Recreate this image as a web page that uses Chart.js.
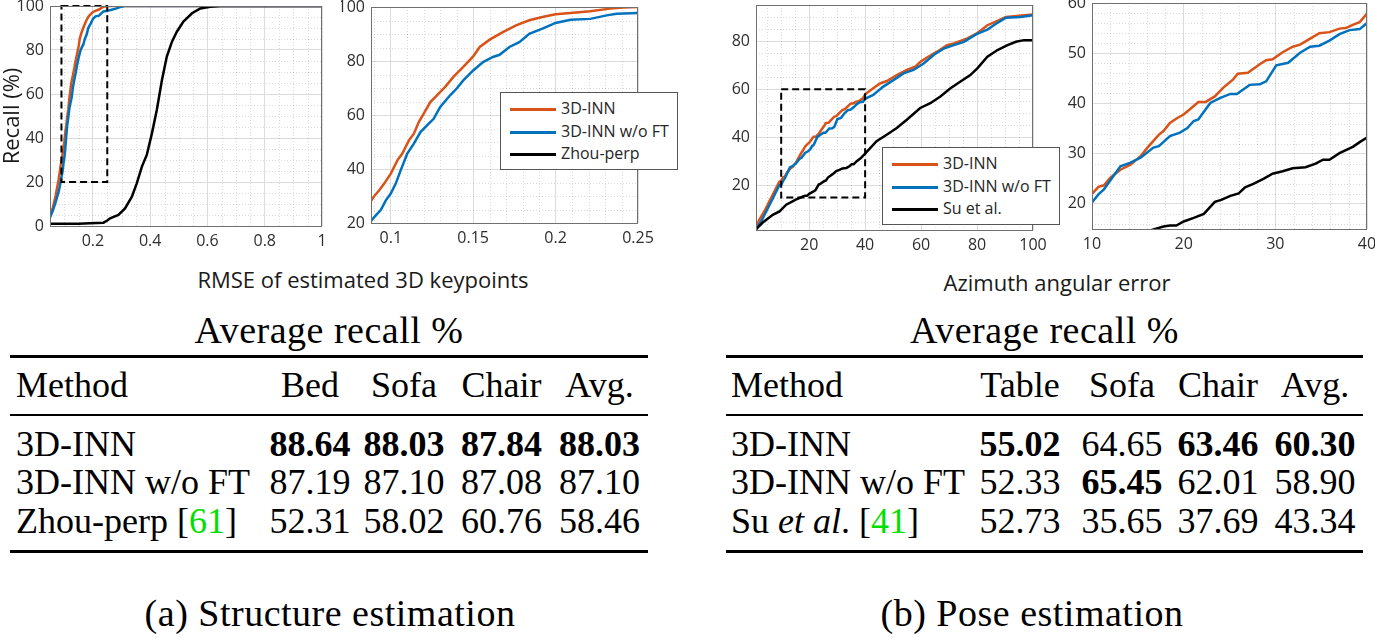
<!DOCTYPE html>
<html>
<head>
<meta charset="utf-8">
<title>3D-INN recall</title>
<script src="https://cdn.jsdelivr.net/npm/chart.js@4.4.1/dist/chart.umd.min.js"></script>
<style>
  html, body { margin: 0; padding: 0; background: #fff; }
  #fig { position: relative; width: 1375px; height: 638px; overflow: hidden; font-family: 'Open Sans', sans-serif; }
  canvas { position: absolute; }
  .axis-title { position: absolute; font-size: 22px; color: #1a1a1a; white-space: nowrap; transform: translate(-50%, -50%); }
  .legend { position: absolute; background: #fff; border: 1.5px solid #555; padding: 4px 8px 4px 9px; font-size: 16px; color: #262626; z-index: 5; }
  .legend div { height: 22.5px; line-height: 22.5px; white-space: nowrap; }
  .legend i { display: inline-block; width: 46px; height: 3px; vertical-align: middle; margin-right: 5px; }
  .tex { position: absolute; font-family: 'Liberation Serif', 'Times New Roman', serif; font-size: 36px; line-height: 40px; color: #000; white-space: nowrap; }
  .big { font-size: 38px; letter-spacing: 0.5px; }
  .rule { position: absolute; background: #000; }
  .cite { color: #00e000; }
</style>
</head>
<body>
<div id="fig">
  <canvas id="rmseFull"></canvas>
  <canvas id="rmseZoom"></canvas>
  <canvas id="aziFull"></canvas>
  <canvas id="aziZoom"></canvas>
  <div class="axis-title" style="left:363px; top:279px;">RMSE of estimated 3D keypoints</div>
  <div class="axis-title" style="left:1057px; top:282px;">Azimuth angular error</div>
  <div class="legend" id="legRmse" style="left:500px; top:92px;"></div>
  <div class="legend" id="legAzi" style="left:882px; top:147px;"></div>
</div>
<script>
// ---- curve data: [error threshold, recall %] ----
const rmseInn = [[0.05,4.5],[0.06,8.5],[0.07,14],[0.08,21],[0.085,25.5],[0.09,30],[0.093,32.1],[0.096,34.6],
  [0.100,38.3],[0.104,43.2],[0.107,45.7],[0.111,50.6],[0.114,53.1],[0.117,57.4],[0.120,60.5],[0.124,64.8],
  [0.128,67.3],[0.133,70.4],[0.138,74.1],[0.144,77.8],[0.150,81.7],[0.154,85.2],[0.160,87.9],[0.168,90.7],
  [0.176,93.2],[0.184,95.1],[0.192,96.3],[0.200,97.3],[0.209,97.8],[0.221,98.4],[0.233,99.4],[0.241,99.8],
  [0.250,100],[1.0,100]];
const rmseInnNoFt = [[0.05,3.9],[0.06,7],[0.07,11],[0.08,15.5],[0.085,18.5],[0.09,22.2],[0.094,24.9],[0.097,28.4],
  [0.100,30.9],[0.103,34.6],[0.106,39.5],[0.110,45.7],[0.114,49.4],[0.118,53.7],[0.122,56.2],[0.126,58.6],
  [0.130,63.0],[0.136,67.3],[0.140,69.8],[0.144,72.8],[0.150,76.5],[0.156,79.6],[0.162,81.5],[0.166,82.3],
  [0.172,85.2],[0.178,87.0],[0.184,90.1],[0.192,92.0],[0.200,94.1],[0.209,95.3],[0.221,95.6],[0.231,96.9],
  [0.237,97.5],[0.250,97.8],[0.265,98.3],[0.280,98.8],[0.300,99.7],[0.310,100],[1.0,100]];
const rmseZhou = [[0.05,1],[0.10,1],[0.15,1],[0.19,1.2],[0.237,1.5],[0.25,2.5],[0.26,3.5],[0.289,5],[0.312,8],
  [0.336,13.3],[0.353,19.4],[0.371,27],[0.388,32.3],[0.406,42.1],[0.423,52.7],[0.441,66.4],[0.458,77],
  [0.476,83.8],[0.493,88.3],[0.516,92.9],[0.546,96.7],[0.575,98.9],[0.61,99.7],[0.645,100],[1.0,100]];

const aziInn = [[1,2.2],[2.1,5.6],[3.9,9.1],[5.7,13.2],[7.5,17.4],[9.3,21.5],[10,22.0],[10.7,23.4],[11.3,23.7],
  [12.0,25.2],[13.1,26.8],[14.2,27.8],[15.3,29.5],[16.0,31.1],[17.3,33.8],[17.8,34.5],[18.5,36.1],[19.3,37.1],
  [20.0,37.8],[21.1,39.5],[21.6,40.3],[22.4,40.3],[23.4,41.4],[24.3,43.1],[25.4,44.8],[25.9,45.9],[27.0,46.1],
  [28.3,47.8],[29.0,48.6],[29.7,48.8],[30.8,50.2],[31.9,51.3],[32.7,51.7],[33.8,52.9],[34.8,54.0],[35.9,54.2],
  [37.0,54.9],[37.7,55.0],[38.5,55.7],[39.2,56.2],[40,57.9],[42.9,60.4],[45.3,62.4],[47.8,63.4],[51.3,65.9],
  [54.9,68],[57.9,69.4],[59.8,71.4],[62.1,73.2],[65.7,75.6],[69.3,78.3],[71.7,79],[74.1,80.1],[76.5,81.1],
  [79.8,83.1],[83.7,86.6],[87.3,88.4],[90.3,90],[93.3,90.3],[96.8,90.7],[100,91.1]];
const aziInnNoFt = [[1,1.8],[2.8,5],[4.6,9.1],[7.0,14.6],[9.4,20.2],[10,20.3],[10.7,21.9],[11.3,22.9],[12.2,25.2],
  [13.1,27.5],[14.2,28.2],[15.3,29.2],[16.7,31.2],[17.3,31.5],[18.5,33.5],[19.6,34.2],[20.4,35.1],[21.1,36.5],
  [21.6,36.8],[22.9,40.1],[24.0,41.1],[25.1,41.9],[25.8,41.9],[27.2,43.7],[28.3,43.8],[29.0,44.4],[30.1,47.6],
  [31.4,48.1],[32.7,50.1],[33.8,51.3],[34.8,51.5],[35.9,52.5],[37.0,53.8],[38.1,54.6],[39.2,54.8],[40,56.0],
  [42.9,57.6],[46.5,61.1],[50.1,63.8],[53.7,66.6],[57.3,68],[60.9,70.7],[64.5,74.2],[68.1,76.9],[71.7,78.3],
  [75.3,79.7],[79.8,82.9],[83.7,84.8],[87.3,87.6],[90.3,89.7],[95.6,90],[100,90.7]];
const aziSu = [[1,1.8],[3.4,4.6],[7,7.8],[9.4,9.2],[11.8,12],[15.4,14.2],[16.9,15.0],[17.8,15.5],[18.5,15.7],
  [19.2,15.7],[20.0,16.5],[21.1,17.2],[22.2,18.0],[23.4,20.4],[24.1,20.8],[25.1,21.6],[26.0,22.1],[26.7,23.3],
  [27.6,24.0],[28.7,25.0],[29.7,26.0],[30.8,26.5],[31.9,27.1],[33.3,27.3],[34.4,28.0],[35.2,28.8],[35.9,28.8],
  [37.0,30.1],[38.5,31.4],[39.2,32.3],[40,33.2],[44.1,38.4],[47.7,41.1],[51.3,43.9],[54.9,47.3],[59.7,52.2],
  [63.3,54.2],[66.9,57],[70.5,60.4],[74.1,63.2],[77.6,65.9],[80.1,68.7],[83.7,73.5],[87.3,76.3],[90.9,78.3],
  [93.9,79.7],[96.8,80.4],[100,80.4]];

// ---- tick values ----
const rmseFullXTicks = [0.2, 0.4, 0.6, 0.8, 1];
const rmseFullYTicks = [0, 20, 40, 60, 80, 100];
const rmseZoomXTicks = [0.1, 0.15, 0.2, 0.25];
const rmseZoomYTicks = [20, 40, 60, 80, 100];
const aziFullXTicks = [20, 40, 60, 80, 100];
const aziFullYTicks = [20, 40, 60, 80];
const aziZoomXTicks = [10, 20, 30, 40];
const aziZoomYTicks = [20, 30, 40, 50, 60];

// dashed boxes marking the zoomed region [xMin, xMax, yMin, yMax]
const rmseZoomRegion = [0.09, 0.25, 20, 100];
const aziZoomRegion = [10, 40, 15, 60];

// ---- tables ----
const structCols = ['Bed', 'Sofa', 'Chair', 'Avg.'];
const structMethods = ['3D-INN', '3D-INN w/o FT', 'Zhou-perp'];
const structCites = [null, null, '61'];
const structVals = [[88.64, 88.03, 87.84, 88.03], [87.19, 87.10, 87.08, 87.10], [52.31, 58.02, 60.76, 58.46]];
const poseCols = ['Table', 'Sofa', 'Chair', 'Avg.'];
const poseMethods = ['3D-INN', '3D-INN w/o FT', 'Su <i>et al</i>.'];
const poseCites = [null, null, '41'];
const poseVals = [[55.02, 64.65, 63.46, 60.30], [52.33, 65.45, 62.01, 58.90], [52.73, 35.65, 37.69, 43.34]];

const ORANGE = '#D95319', BLUE = '#0072BD', BLACK = '#000000';

Chart.defaults.font.family = "'Open Sans', sans-serif";
Chart.defaults.font.size = 16;
Chart.defaults.color = '#2e2e2e';

// minor dotted grid, frame and dashed zoom box, MATLAB style
function axesDecor(minorX, minorY, region) {
  return {
    id: 'axesDecor',
    beforeDatasetsDraw(chart) {
      const { ctx, chartArea: a, scales: { x, y } } = chart;
      ctx.save();
      ctx.strokeStyle = 'rgba(0,0,0,0.14)';
      ctx.lineWidth = 1;
      ctx.setLineDash([1, 2]);
      const near = (v, list) => list.some(t => Math.abs(t.value - v) < 1e-6);
      for (let i = Math.ceil(x.min / minorX - 1e-6); i * minorX <= x.max + 1e-9; i++) {
        const v = i * minorX;
        if (near(v, x.ticks)) continue;
        const px = Math.round(x.getPixelForValue(v)) + 0.5;
        ctx.beginPath(); ctx.moveTo(px, a.top); ctx.lineTo(px, a.bottom); ctx.stroke();
      }
      for (let i = Math.ceil(y.min / minorY - 1e-6); i * minorY <= y.max + 1e-9; i++) {
        const v = i * minorY;
        if (near(v, y.ticks)) continue;
        const py = Math.round(y.getPixelForValue(v)) + 0.5;
        ctx.beginPath(); ctx.moveTo(a.left, py); ctx.lineTo(a.right, py); ctx.stroke();
      }
      ctx.restore();
    },
    afterDatasetsDraw(chart) {
      const { ctx, chartArea: a, scales: { x, y } } = chart;
      ctx.save();
      if (region) {
        const x0 = x.getPixelForValue(region[0]), x1 = x.getPixelForValue(region[1]);
        const y0 = y.getPixelForValue(region[2]), y1 = y.getPixelForValue(region[3]);
        ctx.strokeStyle = '#000';
        ctx.lineWidth = 2;
        ctx.setLineDash([7, 4]);
        ctx.strokeRect(x0, y1, x1 - x0, y0 - y1);
      }
      ctx.setLineDash([]);
      ctx.strokeStyle = '#707070';
      ctx.lineWidth = 1;
      ctx.strokeRect(Math.round(a.left) + 0.5, Math.round(a.top) + 0.5,
        Math.round(a.right - a.left) - 1, Math.round(a.bottom - a.top));
      ctx.restore();
    }
  };
}

const PAD_T = 16, PAD_R = 26, X_H = 32;

function makePlot(id, area, cfg) {
  const yW = cfg.yTitle ? 50 : 30;
  const cv = document.getElementById(id);
  const w = area.R - area.L + yW + PAD_R;
  const h = area.B - area.T + PAD_T + X_H;
  cv.width = w; cv.height = h;
  cv.style.left = (area.L - yW) + 'px';
  cv.style.top = (area.T - PAD_T) + 'px';
  cv.style.width = w + 'px';
  cv.style.height = h + 'px';

  new Chart(cv, {
    type: 'line',
    data: {
      datasets: cfg.series.map((s, i) => ({
        label: s.label,
        data: s.data.map(([px, py]) => ({ x: px, y: py })),
        borderColor: s.color,
        borderWidth: 2.5,
        pointRadius: 0,
        tension: 0,
        fill: false,
        order: cfg.series.length - i   // later series on top, as in MATLAB
      }))
    },
    options: {
      responsive: false,
      animation: false,
      events: [],
      layout: { padding: { top: PAD_T, right: PAD_R, left: 0, bottom: 0 } },
      plugins: { legend: { display: false }, tooltip: { enabled: false } },
      scales: {
        x: {
          type: 'linear', min: cfg.xMin, max: cfg.xMax,
          afterBuildTicks: s => { s.ticks = cfg.xTicks.map(v => ({ value: v })); },
          afterFit: s => { s.height = X_H; },
          ticks: { padding: 6, autoSkip: false, maxRotation: 0, callback: v => String(v) },
          grid: { color: '#dcdcdc', drawTicks: false },
          border: { display: false }
        },
        y: {
          type: 'linear', min: cfg.yMin, max: cfg.yMax,
          afterBuildTicks: s => { s.ticks = cfg.yTicks.map(v => ({ value: v })); },
          afterFit: s => { s.width = yW; },
          ticks: { padding: 6, autoSkip: false, callback: v => String(v) },
          grid: { color: '#dcdcdc', drawTicks: false },
          border: { display: false },
          title: cfg.yTitle ? { display: true, text: cfg.yTitle, color: '#1a1a1a',
                                font: { size: 22 }, padding: 0 } : { display: false }
        }
      }
    },
    plugins: [axesDecor(cfg.minorX, cfg.minorY, cfg.region)]
  });
}

const rmseSeries = [
  { label: '3D-INN', data: rmseInn, color: ORANGE },
  { label: '3D-INN w/o FT', data: rmseInnNoFt, color: BLUE },
  { label: 'Zhou-perp', data: rmseZhou, color: BLACK }
];
const aziSeries = [
  { label: '3D-INN', data: aziInn, color: ORANGE },
  { label: '3D-INN w/o FT', data: aziInnNoFt, color: BLUE },
  { label: 'Su et al.', data: aziSu, color: BLACK }
];

makePlot('rmseFull', { L: 50, R: 322, T: 6, B: 226 }, {
  series: rmseSeries, xMin: 0.05, xMax: 1, yMin: 0, yMax: 100,
  xTicks: rmseFullXTicks, yTicks: rmseFullYTicks, minorX: 0.05, minorY: 5,
  region: rmseZoomRegion, yTitle: 'Recall (%)'
});
makePlot('rmseZoom', { L: 371, R: 638, T: 7, B: 223 }, {
  series: rmseSeries, xMin: 0.088, xMax: 0.25, yMin: 20, yMax: 100,
  xTicks: rmseZoomXTicks, yTicks: rmseZoomYTicks, minorX: 0.01, minorY: 5
});
makePlot('aziFull', { L: 756, R: 1033, T: 5, B: 230 }, {
  series: aziSeries, xMin: 1, xMax: 100, yMin: 1.5, yMax: 95,
  xTicks: aziFullXTicks, yTicks: aziFullYTicks, minorX: 5, minorY: 5,
  region: aziZoomRegion
});
makePlot('aziZoom', { L: 1092, R: 1367, T: 3, B: 229 }, {
  series: aziSeries, xMin: 10, xMax: 40, yMin: 15, yMax: 60,
  xTicks: aziZoomXTicks, yTicks: aziZoomYTicks, minorX: 2, minorY: 2
});

// HTML legends, boxed as in the figure
function buildLegend(id, series) {
  document.getElementById(id).innerHTML = series.map(s =>
    `<div><i style="background:${s.color}"></i>${s.label}</div>`).join('');
}
buildLegend('legRmse', rmseSeries);
buildLegend('legAzi', aziSeries);

// LaTeX-style tables below the plots
const fig = document.getElementById('fig');
function put(html, css, cls) {
  const d = document.createElement('div');
  d.className = cls || 'tex';
  d.innerHTML = html;
  Object.assign(d.style, css);
  fig.appendChild(d);
  return d;
}
function rule(x0, x1, y, t) {
  put('', { left: x0 + 'px', top: (y - t / 2) + 'px', width: (x1 - x0) + 'px', height: t + 'px' }, 'rule');
}
function buildTable(t) {
  const mid = (t.x0 + t.x1) / 2;
  put('Average recall %', { left: (mid - 250) + 'px', width: '500px', textAlign: 'center', top: '310px' }, 'tex big');
  rule(t.x0, t.x1, 356, 3);
  rule(t.x0, t.x1, 415, 2);
  rule(t.x0, t.x1, 551.5, 3);
  const rowTops = [424, 462, 501];
  put('Method', { left: t.textX + 'px', top: '365px' });
  t.cols.forEach((c, j) => put(c, { left: (t.colX[j] - 70) + 'px', width: '140px', textAlign: 'center', top: '365px' }));
  const colMax = t.cols.map((_, j) => Math.max(...t.vals.map(r => r[j])));
  t.methods.forEach((m, i) => {
    const cite = t.cites[i] ? ` [<span class="cite">${t.cites[i]}</span>]` : '';
    put(m + cite, { left: t.textX + 'px', top: rowTops[i] + 'px' });
    t.vals[i].forEach((v, j) => {
      const txt = v.toFixed(2);
      put(v === colMax[j] ? `<b>${txt}</b>` : txt,
        { left: (t.colX[j] - 70) + 'px', width: '140px', textAlign: 'center', top: rowTops[i] + 'px' });
    });
  });
  put(t.caption, { left: (t.capX - 300) + 'px', width: '600px', textAlign: 'center', top: '593px' }, 'tex big');
}
buildTable({ x0: 10, x1: 648, textX: 16, colX: [310, 404, 501.5, 599.5],
  cols: structCols, methods: structMethods, cites: structCites, vals: structVals,
  caption: '(a) Structure estimation', capX: 330 });
buildTable({ x0: 726, x1: 1363, textX: 731, colX: [1020, 1122, 1218, 1315],
  cols: poseCols, methods: poseMethods, cites: poseCites, vals: poseVals,
  caption: '(b) Pose estimation', capX: 1032 });
</script>
</body>
</html>
